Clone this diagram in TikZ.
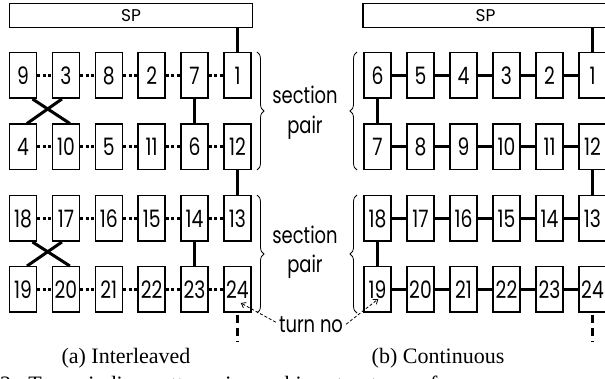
\documentclass[tikz,border=0pt]{standalone}
\usepackage{fontspec}
\setmainfont{Liberation Serif}
\newfontfamily\gfont{Poppins}
\usetikzlibrary{decorations.pathreplacing,arrows.meta,calc}
\newcommand{\nb}[1]{\scalebox{0.78}[1]{#1}}
\begin{document}
\begin{tikzpicture}[x=1pt,y=-1pt,
  cell/.style={draw,line width=1.5pt,minimum width=27pt,minimum height=45.5pt,inner sep=0pt,font=\gfont\fontsize{24}{24}\selectfont},
  spbox/.style={draw,line width=1.5pt,minimum height=24pt,inner sep=0pt,font=\gfont\fontsize{17}{17}\selectfont},
  conn/.style={line width=3pt},
  dotconn/.style={line width=3pt,dash pattern=on 3pt off 2.5pt},
  dashconn/.style={line width=3pt,dash pattern=on 8pt off 5pt},
  brc/.style={line width=0.8pt,decorate,decoration={brace,amplitude=7pt}},
  lbl/.style={font=\gfont\fontsize{23}{23}\selectfont,inner sep=0pt,anchor=base},
  captxt/.style={font=\fontsize{22}{22}\selectfont,inner sep=0pt,anchor=base},
  turnarr/.style={line width=0.8pt,dash pattern=on 3pt off 2pt,-{Straight Barb[length=4pt,width=6pt]}}]
\useasboundingbox (0,0) rectangle (605,379);
% left panel
\foreach \lab [count=\i from 0] in {9,3,8,2,7,1}
  \node[cell] (L\lab) at ({23+42.9*\i},75.5) {\nb{\lab}};
\foreach \lab [count=\i from 0] in {4,10,5,11,6,12}
  \node[cell] (L\lab) at ({23+42.9*\i},147) {\nb{\lab}};
\foreach \lab [count=\i from 0] in {18,17,16,15,14,13}
  \node[cell] (L\lab) at ({23+42.9*\i},218.5) {\nb{\lab}};
\foreach \lab [count=\i from 0] in {19,20,21,22,23,24}
  \node[cell] (L\lab) at ({23+42.9*\i},289.5) {\nb{\lab}};
% right panel
\foreach \lab [count=\i from 0] in {6,5,4,3,2,1}
  \node[cell] (R\lab) at ({377.5+43*\i},75.5) {\nb{\lab}};
\foreach \lab [count=\i from 0] in {7,8,9,10,11,12}
  \node[cell] (R\lab) at ({377.5+43*\i},147) {\nb{\lab}};
\foreach \lab [count=\i from 0] in {18,17,16,15,14,13}
  \node[cell] (R\lab) at ({377.5+43*\i},218.5) {\nb{\lab}};
\foreach \lab [count=\i from 0] in {19,20,21,22,23,24}
  \node[cell] (R\lab) at ({377.5+43*\i},289.5) {\nb{\lab}};
% SP boxes
\node[spbox,minimum width=243pt] (SPL) at (131,15.5) {SP};
\node[spbox,minimum width=245pt] (SPR) at (485.5,15.5) {SP};
% left connectors
\foreach \a/\b in {9/3,3/8,8/2,2/7,7/1,4/10,10/5,5/11,11/6,6/12,18/17,17/16,16/15,15/14,14/13,19/20,20/21,21/22,22/23,23/24}
  \draw[dotconn] (L\a) -- (L\b);
\draw[conn] (SPL.south -| L1) -- (L1.north);
\draw[conn] (L7) -- (L6);
\draw[conn] (L14) -- (L23);
\draw[conn] (L12) -- (L13);
\draw[conn] ([xshift=9.5pt]L9.south) -- ([xshift=4pt]L10.north);
\draw[conn] ([xshift=-4pt]L3.south) -- ([xshift=4pt]L4.north);
\draw[conn] ([xshift=9.5pt]L18.south) -- ([xshift=4pt]L20.north);
\draw[conn] ([xshift=-4pt]L17.south) -- ([xshift=4pt]L19.north);
\coordinate (Lend) at ($(L24.south)+(0,29)$);
\draw[dashconn] ([yshift=-2pt]L24.south) -- (Lend);
% right connectors
\foreach \a/\b in {6/5,5/4,4/3,3/2,2/1,7/8,8/9,9/10,10/11,11/12,18/17,17/16,16/15,15/14,14/13,19/20,20/21,21/22,22/23,23/24}
  \draw[conn] (R\a) -- (R\b);
\draw[conn] (SPR.south -| R1) -- (R1.north);
\draw[conn] (R6) -- (R7);
\draw[conn] (R18) -- (R19);
\draw[conn] (R12) -- (R13);
\coordinate (Rend) at ($(R24.south)+(0,29)$);
\draw[dashconn] ([yshift=-2pt]R24.south) -- (Rend);
% braces
\draw[brc] (257,52) -- (257,170);
\draw[brc] (257,195) -- (257,313);
\draw[brc] (357,170) -- (357,52);
\draw[brc] (357,313) -- (357,195);
% labels
\node[lbl] (sec1) at (305,104) {\nb{section}};
\node[lbl] (pair1) at (305,134) {\nb{pair}};
\node[lbl] (sec2) at (305,244) {\nb{section}};
\node[lbl] (pair2) at (305,273) {\nb{pair}};
\node[lbl] (turn) at (311,332) {\nb{turn no}};
\draw[turnarr] ([xshift=-3pt,yshift=2pt]turn.west) -- ([xshift=-11pt,yshift=10pt]L24.south east);
\draw[turnarr] ([xshift=3pt,yshift=0pt]turn.east) -- ([xshift=15pt,yshift=14pt]R19.south west);
% captions
\node[captxt] (capa) at (126,363) {(a) Interleaved};
\node[captxt] (capb) at (438,363) {(b) Continuous};
\node[captxt,anchor=base west] (capfig) at (0,391) {2:\ \ Two winding patterns in machine structures of};
\end{tikzpicture}
\end{document}
